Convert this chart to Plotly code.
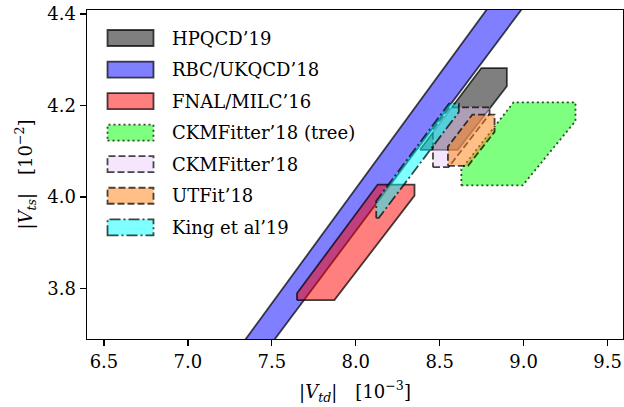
import plotly.graph_objects as go

# ---------------- data ----------------
names = ["HPQCD’19", "RBC/UKQCD’18", "FNAL/MILC’16", "CKMFitter’18 (tree)",
         "CKMFitter’18", "UTFit’18", "King et al’19"]
# |V_td| range [1e-3]
vtd_lo = [8.35, 0.0, 7.650, 8.629, 8.460, 8.549, 8.122]
vtd_hi = [8.900, 20.0, 8.350, 9.309, 8.797, 8.827, 8.614]
# |V_ts| range [1e-2]
vts_lo = [4.103, 3.5, 3.774, 4.025, 4.065, 4.068, 3.954]
vts_hi = [4.282, 4.6, 4.027, 4.207, 4.196, 4.180, 4.204]
# ratio |V_td|[1e-3] / |V_ts|[1e-2]
ratio_lo = [2.043, 1.991, 2.019, 2.125, 2.040, 2.080, 2.035]
ratio_hi = [2.098, 2.038, 2.086, 2.2345, 2.104, 2.131, 2.058]

x_ticks = [6.5, 7.0, 7.5, 8.0, 8.5, 9.0, 9.5]
y_ticks = [3.8, 4.0, 4.2, 4.4]

# ---------------- styles ----------------
fills = ["rgba(0,0,0,0.5)", "rgba(0,0,255,0.5)", "rgba(255,0,0,0.5)",
         "rgba(0,255,0,0.5)", "rgba(235,200,250,0.45)", "rgba(255,127,14,0.5)",
         "rgba(0,255,255,0.5)"]
dashes = ["solid", "solid", "solid", "2px,3px", "7px,3px", "7px,3px",
          "11px,3px,2px,3px"]
edge = "rgba(0,0,0,0.72)"
LW = 1.8
FONT = "DejaVu Serif"


def clip(pts, f):
    out = []
    n = len(pts)
    for i in range(n):
        p, q = pts[i], pts[(i + 1) % n]
        fp, fq = f(p), f(q)
        if fp >= 0:
            out.append(p)
        if (fp >= 0) != (fq >= 0):
            t = fp / (fp - fq)
            out.append((p[0] + t * (q[0] - p[0]), p[1] + t * (q[1] - p[1])))
    return out


fig = go.Figure()
for i, nm in enumerate(names):
    box = [(vtd_lo[i], vts_lo[i]), (vtd_hi[i], vts_lo[i]),
           (vtd_hi[i], vts_hi[i]), (vtd_lo[i], vts_hi[i])]
    rl, rh = ratio_lo[i], ratio_hi[i]
    poly = clip(box, lambda p, r=rl: p[0] - r * p[1])
    poly = clip(poly, lambda p, r=rh: r * p[1] - p[0])
    xs = [p[0] for p in poly] + [poly[0][0]]
    ys = [p[1] for p in poly] + [poly[0][1]]
    fig.add_trace(go.Scatter(
        x=xs, y=ys, mode="lines", fill="toself", fillcolor=fills[i],
        line=dict(color=edge, width=LW, dash=dashes[i]),
        name=nm, showlegend=False, hoverinfo="skip"))

# ---------------- layout geometry ----------------
W, H = 624, 407
ML, MR, MT, MB = 87, 1, 10, 68
PW, PH = W - ML - MR, H - MT - MB


def px2paper_x(px):
    return (px - ML) / PW


def py2paper_y(py):
    return (H - MB - py) / PH


shapes = []
annotations = []
for i, nm in enumerate(names):
    cy = 38 + i * 31.55
    shapes.append(dict(
        type="rect", xref="paper", yref="paper",
        x0=px2paper_x(107.5), x1=px2paper_x(153.5),
        y0=py2paper_y(cy + 8), y1=py2paper_y(cy - 8),
        fillcolor=fills[i], line=dict(color=edge, width=LW, dash=dashes[i])))
    annotations.append(dict(
        text=nm, xref="paper", yref="paper", x=px2paper_x(170),
        y=py2paper_y(cy), xanchor="left", yanchor="middle", showarrow=False,
        font=dict(family=FONT, size=18, color="black")))

fig.update_layout(
    width=W, height=H,
    margin=dict(l=ML, r=MR, t=MT, b=MB, pad=0),
    paper_bgcolor="white", plot_bgcolor="white",
    font=dict(family=FONT, size=18, color="black"),
    shapes=shapes, annotations=annotations,
    showlegend=False,
)
fig.update_xaxes(
    range=[6.399, 9.592], tickvals=x_ticks, tickformat=".1f",
    showgrid=False, zeroline=False,
    showline=True, linewidth=1.4, linecolor="black", mirror=True,
    ticks="outside", ticklen=6, tickwidth=1.3, tickcolor="black",
    tickfont=dict(family=FONT, size=18, color="black"),
    ticklabeloverflow="allow",
    title=dict(text="|<i>V</i><sub><i>td</i></sub>|\u2003[10<sup>−3</sup>]",
               font=dict(family=FONT, size=18), standoff=14),
    automargin=False)
fig.update_yaxes(
    range=[3.689, 4.409], tickvals=y_ticks, tickformat=".1f",
    showgrid=False, zeroline=False,
    showline=True, linewidth=1.4, linecolor="black", mirror=True,
    ticks="outside", ticklen=6, tickwidth=1.3, tickcolor="black",
    tickfont=dict(family=FONT, size=18, color="black"),
    ticklabeloverflow="allow",
    title=dict(text="|<i>V</i><sub><i>ts</i></sub>|\u2003[10<sup>−2</sup>]",
               font=dict(family=FONT, size=18), standoff=10),
    automargin=False)

# remove the browser's default 8px body margin so the figure fills the window
fig.write_html("out.html",
               config={"displayModeBar": False, "staticPlot": True},
               post_script="document.body.style.margin='0';"
                           "document.body.style.overflow='hidden';")
